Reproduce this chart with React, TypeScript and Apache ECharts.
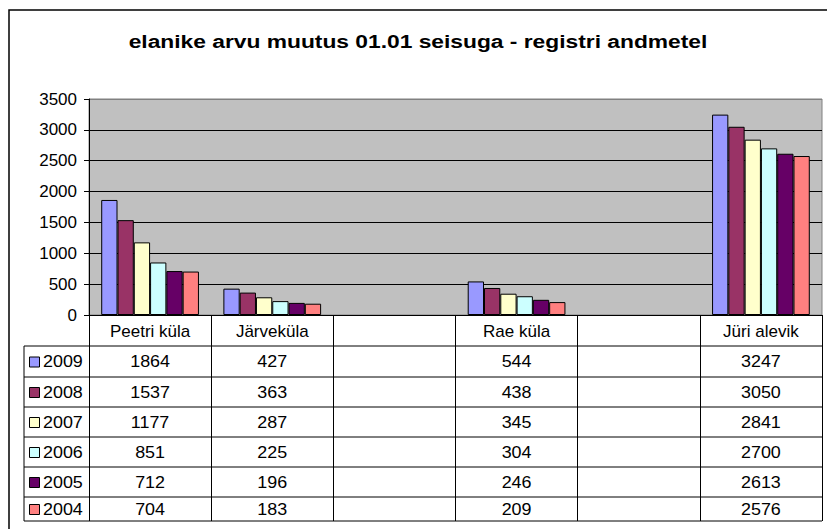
import React, { useEffect, useRef } from "react";
import * as echarts from "echarts";

const title = "elanike arvu muutus 01.01 seisuga - registri andmetel";
const categories = ["Peetri küla", "Järveküla", "", "Rae küla", "", "Jüri alevik"];
const years = ["2009", "2008", "2007", "2006", "2005", "2004"];
const v2009 = [1864, 427, null, 544, null, 3247];
const v2008 = [1537, 363, null, 438, null, 3050];
const v2007 = [1177, 287, null, 345, null, 2841];
const v2006 = [851, 225, null, 304, null, 2700];
const v2005 = [712, 196, null, 246, null, 2613];
const v2004 = [704, 183, null, 209, null, 2576];
const seriesValues = [v2009, v2008, v2007, v2006, v2005, v2004];
const colors = ["#9999FF", "#993366", "#FFFFCC", "#CCFFFF", "#660066", "#FF8080"];

const FONT = "'Liberation Sans', Arial, sans-serif";

export default function App() {
  const ref = useRef<HTMLDivElement>(null);
  useEffect(() => {
    if (!ref.current) return;
    const chart = echarts.init(ref.current, null, { renderer: "svg" });
    const gridLeft = 89, gridTop = 99, gridRight = 822, gridBottom = 315;
    chart.setOption({
      animation: false,
      backgroundColor: "#ffffff",
      grid: {
        left: gridLeft,
        top: gridTop,
        width: gridRight - gridLeft,
        height: gridBottom - gridTop,
        show: true,
        backgroundColor: "#C0C0C0",
        borderColor: "#808080",
        borderWidth: 1,
      },
      xAxis: {
        type: "category",
        data: categories,
        axisLine: { lineStyle: { color: "#000", width: 1 } },
        axisTick: { show: true, length: 206, lineStyle: { color: "#000", width: 1 } },
        axisLabel: { color: "#000", fontSize: 17, fontFamily: FONT, margin: 8, interval: 0 },
        splitLine: { show: false },
      },
      yAxis: {
        type: "value",
        min: 0,
        max: 3500,
        interval: 500,
        axisLine: { show: true, lineStyle: { color: "#000", width: 1 } },
        axisTick: { show: true, length: 5, lineStyle: { color: "#000" } },
        axisLabel: {
          color: "#000",
          fontSize: 17,
          fontFamily: FONT,
          margin: 12,
          formatter: (v: number) => String(v),
        },
        splitLine: {
          show: true,
          lineStyle: {
            color: ["#000", "#000", "#000", "#000", "#000", "#000", "#000", "#808080"],
            width: 1,
          },
        },
      },
      series: years.map((y, i) => ({
        name: y,
        type: "bar",
        data: seriesValues[i],
        barGap: "0%",
        barCategoryGap: "20%",
        itemStyle: { color: colors[i], borderColor: "#000", borderWidth: 1 },
      })),
    });

    const xs = categories.map((_, i) => chart.convertToPixel({ xAxisIndex: 0 }, i) as number);
    const rowLines = [346, 377, 407, 437, 467, 497, 521];
    const graphic: any[] = [];
    graphic.push({
      type: "rect",
      shape: { x: 9, y: 10, width: 840, height: 540 },
      style: { fill: "none", stroke: "#000", lineWidth: 1.5 },
      silent: true,
    });
    graphic.push({
      type: "text",
      x: 418,
      y: 41,
      scaleX: 1.2,
      style: {
        text: title,
        fontSize: 19,
        fontWeight: "bold",
        fontFamily: FONT,
        fill: "#000",
        align: "center",
        verticalAlign: "middle",
      },
    });
    rowLines.forEach((y) => {
      graphic.push({
        type: "line",
        shape: { x1: 24, y1: y, x2: gridRight, y2: y },
        style: { stroke: "#000", lineWidth: 1 },
      });
    });
    graphic.push({
      type: "line",
      shape: { x1: 24, y1: rowLines[0], x2: 24, y2: rowLines[rowLines.length - 1] },
      style: { stroke: "#000", lineWidth: 1 },
    });
    years.forEach((yr, r) => {
      const cy = (rowLines[r] + rowLines[r + 1]) / 2 + 0.5;
      graphic.push({
        type: "rect",
        shape: { x: 29.5, y: cy - 5, width: 10, height: 10 },
        style: { fill: colors[r], stroke: "#000", lineWidth: 1 },
      });
      graphic.push({
        type: "text",
        x: 43,
        y: cy,
        scaleX: 1.12,
        style: {
          text: yr,
          fontSize: 16,
          fontFamily: FONT,
          fill: "#000",
          align: "left",
          verticalAlign: "middle",
        },
      });
      seriesValues[r].forEach((v, c) => {
        if (v === null || v === undefined) return;
        graphic.push({
          type: "text",
          x: xs[c],
          y: cy,
          scaleX: 1.12,
          style: {
            text: String(v),
            fontSize: 16,
            fontFamily: FONT,
            fill: "#000",
            align: "center",
            verticalAlign: "middle",
          },
        });
      });
    });
    chart.setOption({ graphic });
    return () => chart.dispose();
  }, []);
  return (
    <div
      ref={ref}
      style={{ position: "absolute", left: 0, top: 0, width: 827, height: 529 }}
    />
  );
}
